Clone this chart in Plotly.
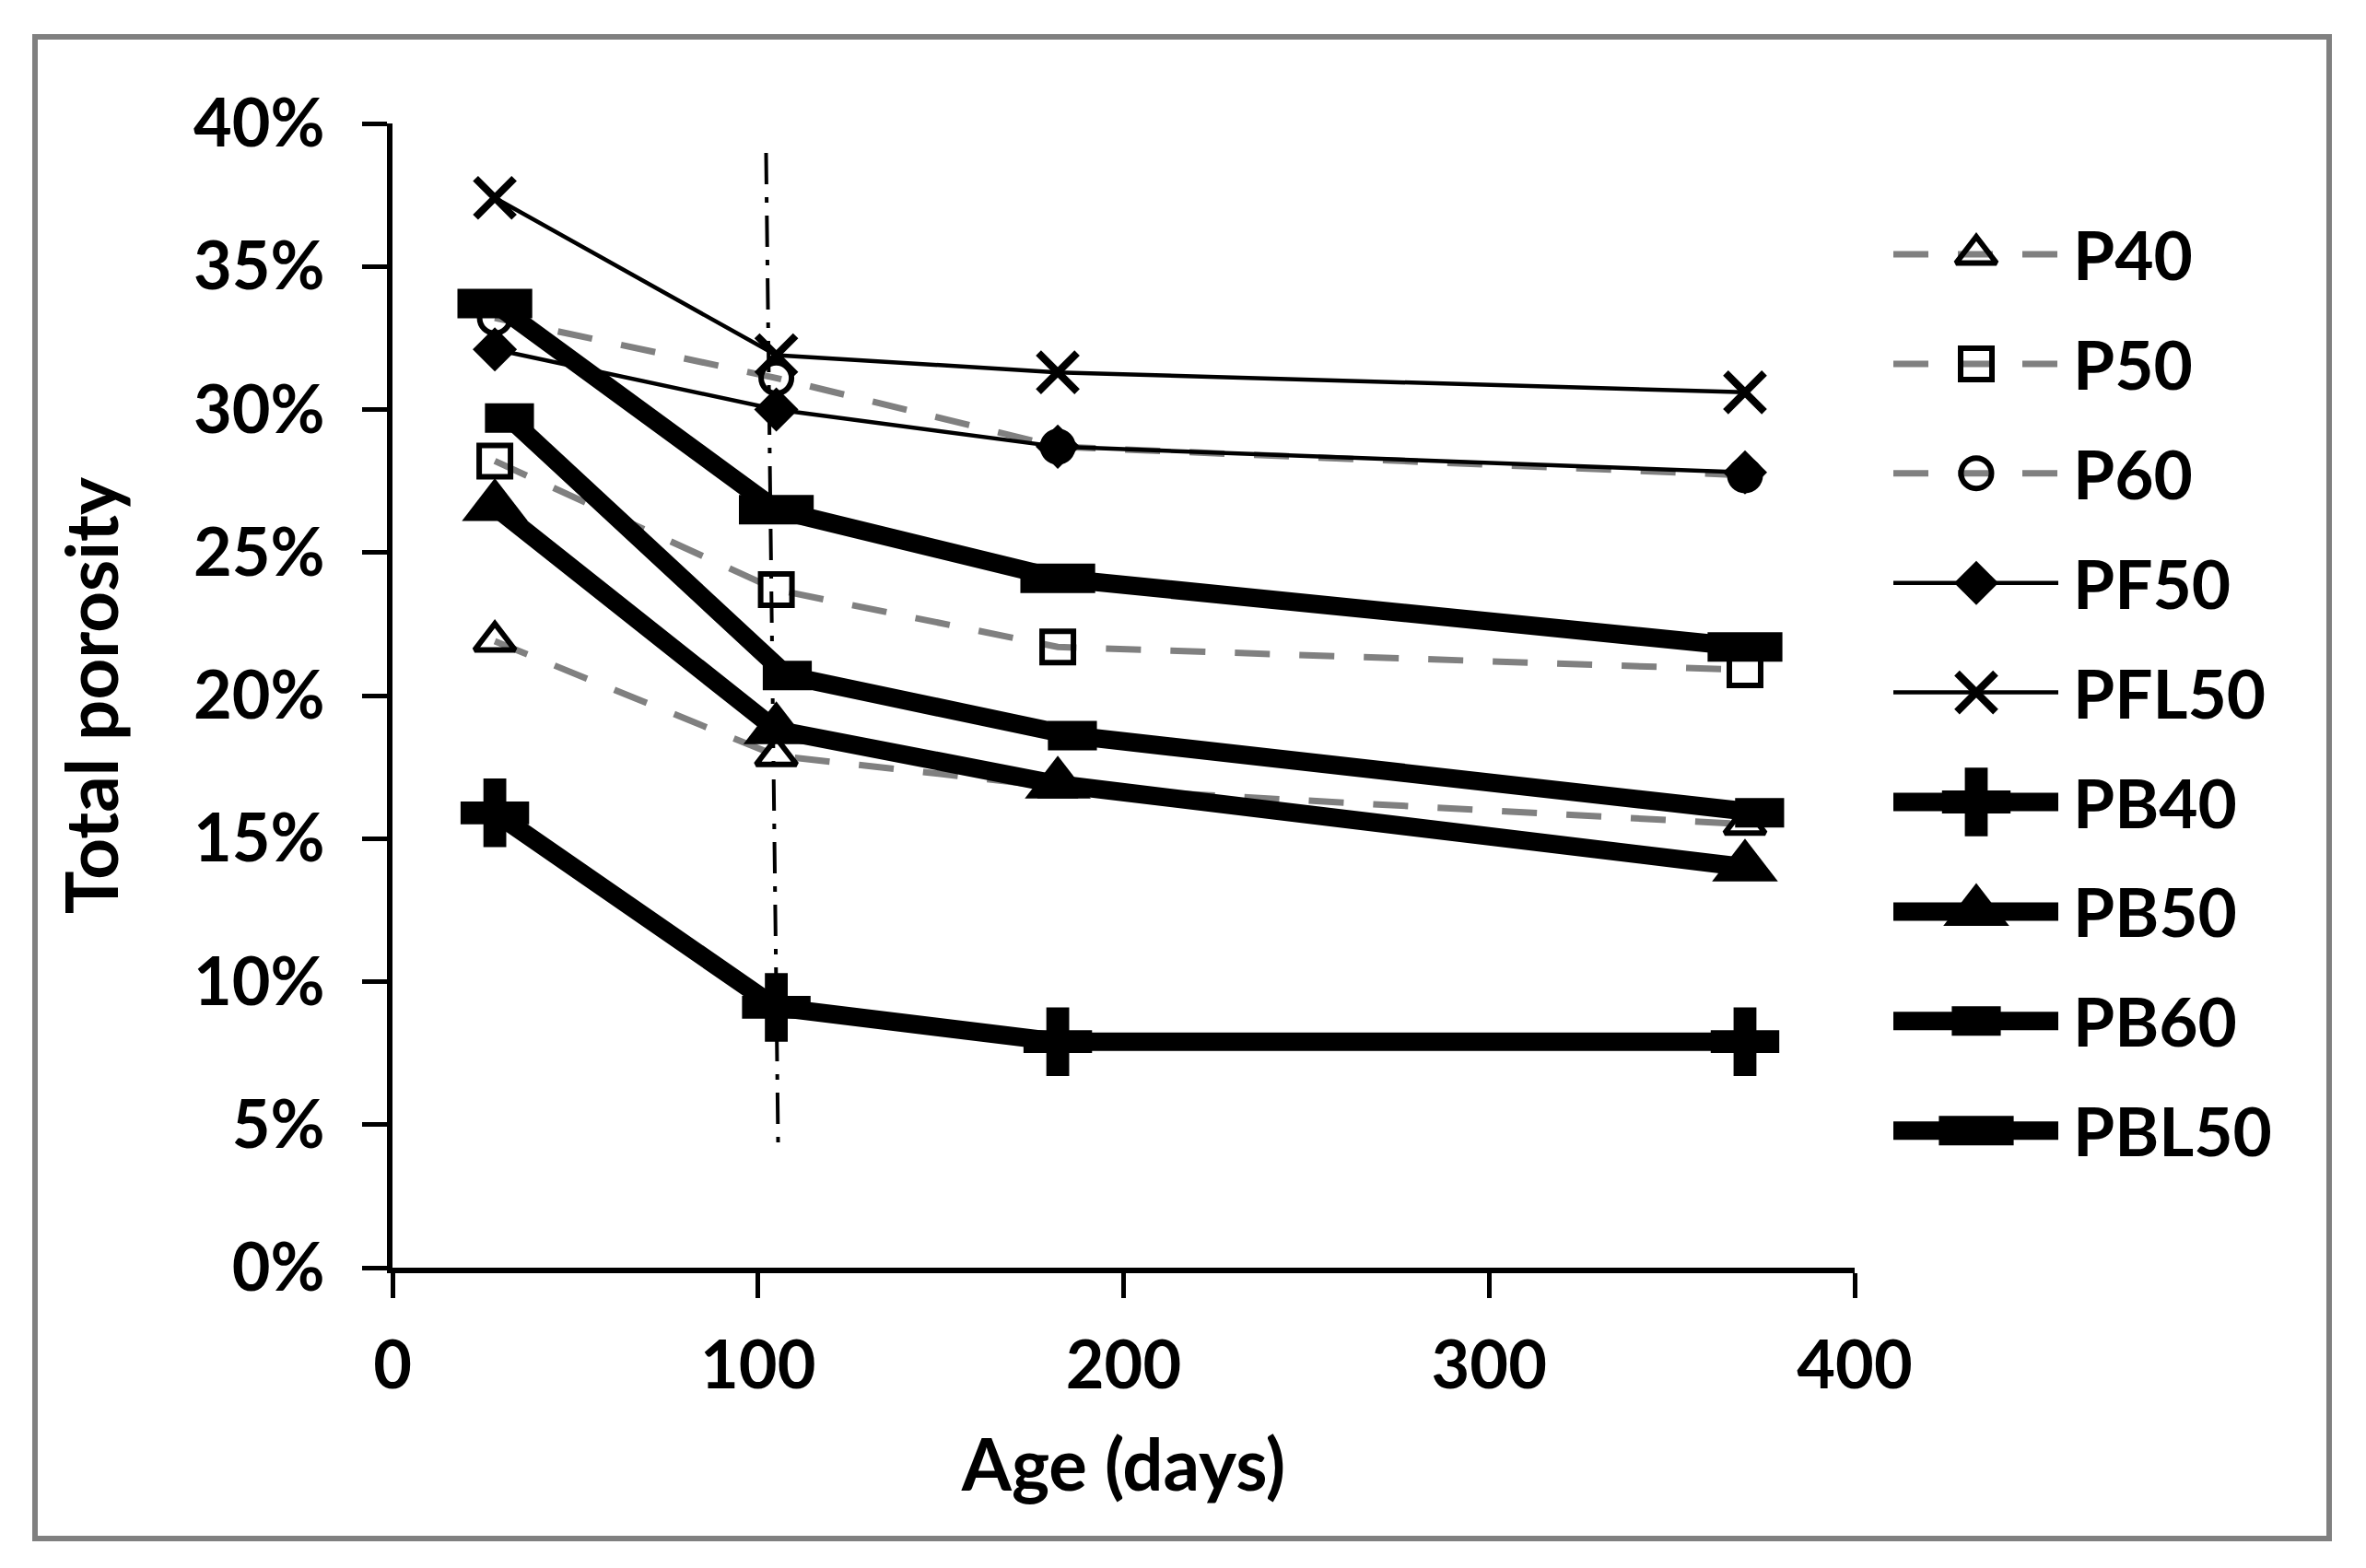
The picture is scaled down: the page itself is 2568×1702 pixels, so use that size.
import plotly.graph_objects as go

# ---------------- data ----------------
days = [28, 105, 182, 370]
days_pb60 = [32, 108, 186, 374]

p40 = [21.9, 17.9, 16.8, 15.5]
p50 = [28.2, 23.7, 21.7, 20.9]
p60 = [33.2, 31.1, 28.7, 27.7]
pf50 = [32.1, 30.0, 28.7, 27.8]
pfl50 = [37.4, 31.9, 31.3, 30.6]
pb40 = [15.9, 9.1, 7.9, 7.9]
pb50 = [26.6, 18.8, 16.9, 14.0]
pb60 = [29.7, 20.7, 18.6, 15.9]
pbl50 = [33.7, 26.5, 24.1, 21.7]

series_names = ["P40", "P50", "P60", "PF50", "PFL50", "PB40", "PB50", "PB60", "PBL50"]

vline_days = [102.2, 105.5]
vline_porosity = [38.97, 4.27]

x_ticks = [0, 100, 200, 300, 400]
y_ticks = [0, 5, 10, 15, 20, 25, 30, 35, 40]
y_tick_labels = [f"{v}%" for v in y_ticks]

# ---------------- styling ----------------
W, H = 2568, 1702
FONT = "Lato"
GRAY = "#808080"
DASH = "38px,32px"
BLK = "black"

styles = {
    "P40": dict(line=dict(color=GRAY, width=7, dash=DASH),
                marker=dict(symbol="triangle-up-open", size=38, color=BLK, line=dict(width=6, color=BLK))),
    "P50": dict(line=dict(color=GRAY, width=7, dash=DASH),
                marker=dict(symbol="square-open", size=34, color=BLK, line=dict(width=6, color=BLK))),
    "P60": dict(line=dict(color=GRAY, width=7, dash=DASH),
                marker=dict(symbol="circle-open", size=33, color=BLK, line=dict(width=6, color=BLK))),
    "PF50": dict(line=dict(color=BLK, width=4.5),
                 marker=dict(symbol="diamond", size=37, color=BLK, line=dict(width=0, color=BLK))),
    "PFL50": dict(line=dict(color=BLK, width=4.5),
                  marker=dict(symbol="x-thin", size=42, color=BLK, line=dict(width=8, color=BLK))),
    "PB40": dict(line=dict(color=BLK, width=20),
                 marker=dict(symbol="cross", size=62, color=BLK, line=dict(width=0, color=BLK))),
    "PB50": dict(line=dict(color=BLK, width=20),
                 marker=dict(symbol="triangle-up", size=62, color=BLK, line=dict(width=0, color=BLK))),
    "PB60": dict(line=dict(color=BLK, width=20),
                 marker=dict(symbol="line-ew", size=38, color=BLK, line=dict(width=32, color=BLK))),
    "PBL50": dict(line=dict(color=BLK, width=20),
                  marker=dict(symbol="line-ew", size=58, color=BLK, line=dict(width=32, color=BLK))),
}

data_map = {
    "P40": (days, p40), "P50": (days, p50), "P60": (days, p60),
    "PF50": (days, pf50), "PFL50": (days, pfl50), "PB40": (days, pb40),
    "PB50": (days, pb50), "PB60": (days_pb60, pb60), "PBL50": (days, pbl50),
}

fig = go.Figure()

for name in series_names:
    xs, ys = data_map[name]
    st = styles[name]
    fig.add_trace(go.Scatter(x=xs, y=ys, mode="lines+markers", name=name,
                             line=st["line"], marker=st["marker"], showlegend=False,
                             xaxis="x", yaxis="y"))

# vertical dash-dot reference line
fig.add_trace(go.Scatter(x=vline_days, y=vline_porosity, mode="lines",
                         line=dict(color=BLK, width=4, dash="34px,14px,6px,14px"),
                         showlegend=False, hoverinfo="skip", xaxis="x", yaxis="y"))

# ---------------- custom legend (overlay axis in pixel units) ----------------
leg_x0, leg_xm, leg_x1 = 2047, 2137, 2226
leg_y0, leg_dy = 268, 118.9
leg_text_x = 2240
annotations = []
for i, name in enumerate(series_names):
    yy = leg_y0 + i * leg_dy
    st = styles[name]
    fig.add_trace(go.Scatter(x=[leg_x0, leg_xm, leg_x1], y=[yy, yy, yy], mode="lines",
                             line=st["line"], showlegend=False, hoverinfo="skip",
                             xaxis="x2", yaxis="y2"))
    fig.add_trace(go.Scatter(x=[leg_xm], y=[yy], mode="markers",
                             marker=st["marker"], showlegend=False, hoverinfo="skip",
                             xaxis="x2", yaxis="y2"))
    annotations.append(dict(x=leg_text_x / W, y=1 - yy / H, xref="paper", yref="paper",
                            text=name, showarrow=False, xanchor="left", yanchor="middle",
                            font=dict(family=FONT, size=73, color=BLK, weight="bold")))

x_l, x_r = 418, 2005
y_t, y_b = 126, 1368

fig.update_layout(
    template="none",
    width=W, height=H, autosize=False,
    margin=dict(l=0, r=0, t=0, b=0, pad=0, autoexpand=False),
    paper_bgcolor="white", plot_bgcolor="rgba(0,0,0,0)",
    font=dict(family=FONT, color=BLK),
    xaxis=dict(domain=[x_l / W, x_r / W], range=[0, 400], tickvals=x_ticks,
               showline=True, linecolor=BLK, linewidth=6, ticks="outside",
               ticklen=27, tickwidth=5, tickcolor=BLK, showgrid=False, zeroline=False,
               tickfont=dict(family=FONT, size=72, color=BLK, weight="bold"),
               ticklabelstandoff=12, automargin=False,
               title=dict(text="Age (days)", standoff=44,
                          font=dict(family=FONT, size=78, color=BLK, weight="bold")),
               anchor="y"),
    yaxis=dict(domain=[1 - y_b / H, 1 - y_t / H], range=[0, 40],
               tickvals=y_ticks, ticktext=y_tick_labels,
               showline=True, linecolor=BLK, linewidth=6, ticks="outside",
               ticklen=27, tickwidth=5, tickcolor=BLK, showgrid=False, zeroline=False,
               tickfont=dict(family=FONT, size=72, color=BLK, weight="bold"),
               ticklabelstandoff=26, automargin=False,
               title=dict(text="Total porosity", standoff=58,
                          font=dict(family=FONT, size=78, color=BLK, weight="bold")),
               anchor="x"),
    xaxis2=dict(domain=[0, 1], range=[0, W], visible=False, anchor="y2",
                fixedrange=True, automargin=False),
    yaxis2=dict(domain=[0, 1], range=[H, 0], visible=False, anchor="x2",
                fixedrange=True, automargin=False),
    annotations=annotations,
    shapes=[dict(type="rect", xref="paper", yref="paper",
                 x0=30 / W, x1=2520 / W, y0=1 - 1662 / H, y1=1 - 32 / H,
                 line=dict(color=GRAY, width=6), fillcolor="rgba(0,0,0,0)", layer="above")],
    showlegend=False,
)

fig.write_html("out.html")
